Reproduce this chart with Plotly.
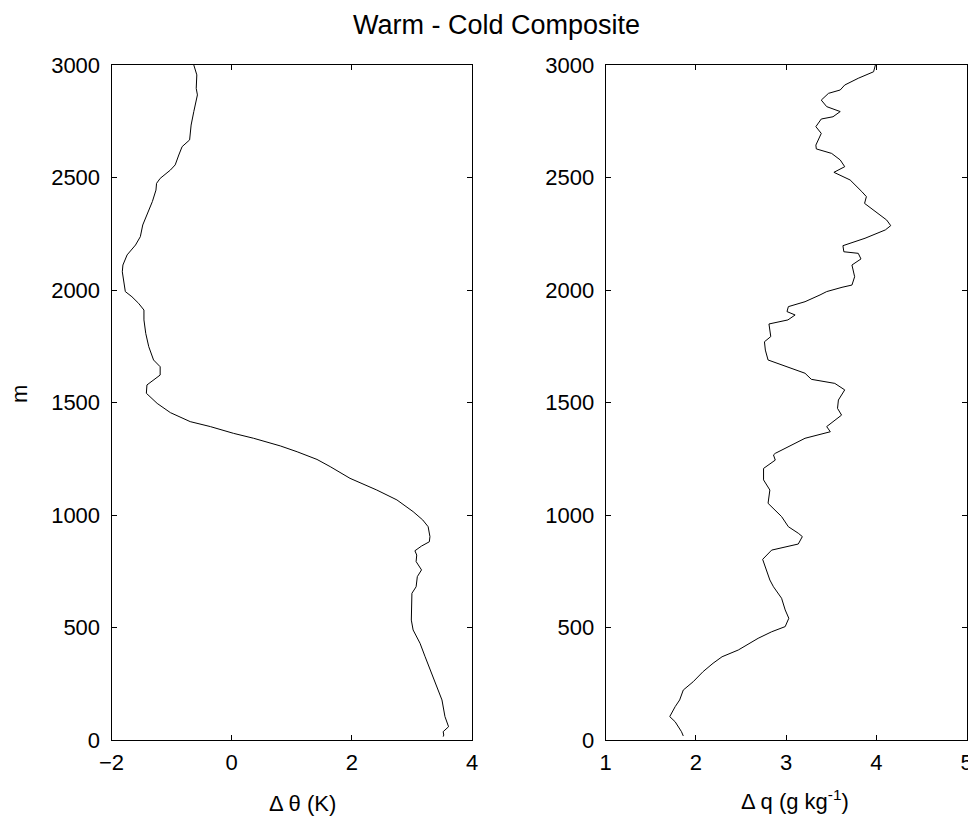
import plotly.graph_objects as go

# Left panel: potential temperature difference (K) vs height (m)
theta_height = [3000, 2956, 2896, 2867, 2793, 2733, 2667, 2637, 2600, 2556, 2533, 2496, 2474, 2444,
                2393, 2333, 2289, 2237, 2200, 2156, 2111, 2081, 2037, 1993, 1970, 1941, 1911, 1867,
                1807, 1748, 1689, 1659, 1622, 1578, 1541, 1496, 1455, 1415, 1393, 1363, 1341, 1307,
                1281, 1247, 1215, 1163, 1111, 1067, 1015, 978, 948, 904, 881, 862, 841, 822, 793,
                756, 726, 681, 652, 578, 533, 489, 430, 370, 296, 244, 178, 104, 59, 37, 22, 15]
theta_diff = [-0.63, -0.58, -0.59, -0.57, -0.63, -0.675, -0.70, -0.825, -0.88, -0.94, -1.02, -1.19,
              -1.25, -1.26, -1.32, -1.41, -1.48, -1.52, -1.60, -1.74, -1.81, -1.82, -1.80, -1.77,
              -1.66, -1.55, -1.46, -1.46, -1.43, -1.38, -1.30, -1.19, -1.19, -1.41, -1.42, -1.24,
              -1.02, -0.69, -0.355, 0.03, 0.365, 0.81, 1.09, 1.42, 1.64, 1.97, 2.415, 2.75, 3.02,
              3.18, 3.27, 3.30, 3.29, 3.16, 3.05, 3.08, 3.07, 3.16, 3.09, 3.07, 3.0, 3.0, 2.99,
              3.02, 3.135, 3.22, 3.33, 3.41, 3.50, 3.55, 3.61, 3.52, 3.53, 3.52]

# Right panel: specific humidity difference (g/kg) vs height (m)
q_height = [3000, 2970, 2941, 2911, 2889, 2874, 2844, 2815, 2793, 2770, 2760, 2726, 2696, 2667,
            2644, 2627, 2607, 2578, 2548, 2523, 2489, 2437, 2415, 2385, 2348, 2311, 2286, 2267,
            2230, 2197, 2170, 2163, 2138, 2111, 2059, 2022, 2012, 1993, 1978, 1948, 1926, 1904,
            1889, 1867, 1849, 1793, 1770, 1733, 1689, 1662, 1630, 1603, 1585, 1556, 1511, 1474,
            1444, 1393, 1370, 1341, 1311, 1274, 1267, 1244, 1207, 1156, 1111, 1052, 993, 948,
            919, 904, 871, 844, 803, 756, 711, 681, 630, 578, 541, 504, 481, 452, 400, 370, 341,
            304, 259, 222, 178, 148, 104, 81, 37, 18]
q_diff = [3.99, 3.97, 3.80, 3.65, 3.60, 3.47, 3.39, 3.45, 3.60, 3.52, 3.39, 3.33, 3.39, 3.36,
          3.33, 3.335, 3.505, 3.60, 3.65, 3.53, 3.71, 3.84, 3.89, 3.87, 3.99, 4.115, 4.16, 4.10,
          3.875, 3.63, 3.64, 3.80, 3.83, 3.73, 3.76, 3.73, 3.62, 3.45, 3.376, 3.21, 3.025, 3.01,
          3.10, 3.02, 2.81, 2.83, 2.76, 2.77, 2.80, 2.99, 3.21, 3.28, 3.54, 3.65, 3.58, 3.57,
          3.615, 3.45, 3.49, 3.21, 3.06, 2.88, 2.86, 2.88, 2.75, 2.75, 2.82, 2.80, 2.95, 3.025,
          3.135, 3.18, 3.135, 2.84, 2.74, 2.78, 2.82, 2.86, 2.95, 2.99, 3.03, 2.99, 2.84, 2.69,
          2.47, 2.29, 2.19, 2.08, 1.97, 1.86, 1.82, 1.77, 1.71, 1.77, 1.84, 1.86]

height_ticks = [0, 500, 1000, 1500, 2000, 2500, 3000]
theta_ticks = [-2, 0, 2, 4]
q_ticks = [1, 2, 3, 4, 5]

# page has an 8px body margin; size the figure so it fits the 976x819 window
OFF = 8
W, H = 976 - OFF, 819 - OFF
FONT = "Liberation Sans, Arial, Helvetica, sans-serif"


def px_x(p):
    return (p - OFF) / W


def px_y(p):
    return (H - (p - OFF)) / H


fig = go.Figure()
fig.add_trace(go.Scatter(x=theta_diff, y=theta_height, mode="lines",
                         line=dict(color="black", width=1), xaxis="x", yaxis="y",
                         showlegend=False))
fig.add_trace(go.Scatter(x=q_diff, y=q_height, mode="lines",
                         line=dict(color="black", width=1), xaxis="x2", yaxis="y2",
                         showlegend=False))

ax_common = dict(showgrid=False, zeroline=False, showline=True, linecolor="black",
                 linewidth=1, mirror="ticks", ticks="inside", ticklen=5, tickwidth=1,
                 tickcolor="black", automargin=False,
                 tickfont=dict(size=22, color="black", family=FONT))

y_dom = [px_y(740), px_y(65)]
fig.update_layout(
    width=W, height=H,
    margin=dict(l=0, r=0, t=0, b=0),
    paper_bgcolor="white", plot_bgcolor="white",
    font=dict(family=FONT, color="black"),
    xaxis=dict(domain=[px_x(111.5), px_x(472)], range=[-2, 4], tickvals=theta_ticks,
               anchor="y", ticklabelstandoff=3, **ax_common),
    yaxis=dict(domain=y_dom, range=[0, 3000], tickvals=height_ticks, anchor="x",
               ticklabelstandoff=6, **ax_common),
    xaxis2=dict(domain=[px_x(605.7), px_x(966.5)], range=[1, 5], tickvals=q_ticks,
                anchor="y2", ticklabelstandoff=3, **ax_common),
    yaxis2=dict(domain=y_dom, range=[0, 3000], tickvals=height_ticks, anchor="x2",
                ticklabelstandoff=6, **ax_common),
    annotations=[
        dict(text="Warm - Cold Composite", x=px_x(497), y=px_y(25), xref="paper",
             yref="paper", xanchor="center", yanchor="middle", showarrow=False,
             font=dict(size=27, color="black", family=FONT)),
        dict(text="m", x=px_x(19), y=px_y(394), xref="paper", yref="paper",
             xanchor="center", yanchor="middle", textangle=-90, showarrow=False,
             font=dict(size=22, color="black", family=FONT)),
        dict(text="\u0394 \u03b8 (K)", x=px_x(302), y=px_y(803), xref="paper",
             yref="paper", xanchor="center", yanchor="middle", showarrow=False,
             font=dict(size=22, color="black", family=FONT)),
        dict(text="\u0394 q (g kg<sup>-1</sup>)", x=px_x(795), y=px_y(800), xref="paper",
             yref="paper", xanchor="center", yanchor="middle", showarrow=False,
             font=dict(size=22, color="black", family=FONT)),
    ],
)

fig.write_html("out.html")
